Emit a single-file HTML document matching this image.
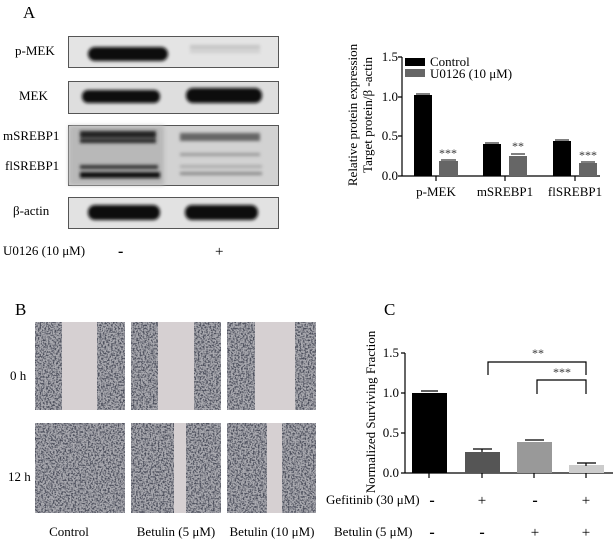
<!DOCTYPE html>
<html><head><meta charset="utf-8"><style>
html,body{margin:0;padding:0;background:#fff;}
svg{display:block;font-family:"Liberation Serif",serif;}
</style></head><body>
<svg width="613" height="542" viewBox="0 0 613 542" xmlns="http://www.w3.org/2000/svg">
<defs>
<filter id="blur1"><feGaussianBlur stdDeviation="2"/></filter>
<filter id="blur2"><feGaussianBlur stdDeviation="1.5"/></filter>
<filter id="cells" x="0" y="0" width="100%" height="100%" color-interpolation-filters="sRGB">
<feTurbulence type="fractalNoise" baseFrequency="0.6" numOctaves="2" seed="3" result="n"/>
<feColorMatrix in="n" type="matrix" values="0 0 0 0 0.3  0 0 0 0 0.31  0 0 0 0 0.36  4 0 0 0 -1.7" result="m"/>
<feComposite in="m" in2="SourceGraphic" operator="in"/>
</filter>
</defs>

<!-- Panel A -->
<text x="23" y="18" font-size="17">A</text>
<g font-size="13">
<text x="15" y="55">p-MEK</text>
<text x="19" y="100">MEK</text>
<text x="3" y="140">mSREBP1</text>
<text x="5" y="170">flSREBP1</text>
<text x="13" y="215">β-actin</text>
<text x="3" y="255">U0126  (10 μM)</text>
<text x="118" y="256" font-size="16" font-weight="bold">-</text>
<text x="215" y="256" font-size="15">+</text>
</g>
<g stroke="#555" stroke-width="1">
<rect x="68.5" y="36.5" width="210" height="31" fill="#e4e4e4"/>
<rect x="68.5" y="81.5" width="210" height="32" fill="#dedede"/>
<rect x="68.5" y="125.5" width="210" height="60" fill="#d2d2d2"/>
<rect x="68.5" y="197.5" width="210" height="31" fill="#e2e2e2"/>
</g>
<rect x="69" y="126" width="95" height="59" fill="#b8b8b8" filter="url(#blur1)"/>
<g filter="url(#blur2)" fill="#0a0a0a">
<rect x="88" y="47" width="80" height="14" rx="7"/>
<rect x="82" y="90" width="78" height="13" rx="6"/>
<rect x="186" y="88" width="76" height="15" rx="7"/>
<rect x="88" y="205" width="72" height="15" rx="7"/>
<rect x="185" y="205" width="73" height="15" rx="7"/>
<rect x="80" y="131" width="76" height="7" fill="#222"/>
<rect x="80" y="139" width="76" height="4" fill="#222"/>
<rect x="80" y="165" width="78" height="4" fill="#333"/>
<rect x="80" y="172" width="80" height="6"/>
<rect x="180" y="133" width="80" height="8" fill="#666"/>
<rect x="180" y="153" width="80" height="3" fill="#999"/>
<rect x="180" y="165" width="82" height="3" fill="#aaa"/>
<rect x="180" y="172" width="82" height="3" fill="#888"/>
<rect x="190" y="45" width="70" height="4" fill="#c4c4c4"/>
<rect x="190" y="50" width="70" height="3" fill="#cecece"/>
</g>

<!-- Top bar chart -->
<g font-size="13">
<text transform="translate(357,115) rotate(-90)" text-anchor="middle">Relative protein expression</text>
<text transform="translate(372,115) rotate(-90)" text-anchor="middle">Target protein/β -actin</text>
<g text-anchor="end">
<text x="398" y="61">1.5</text><text x="398" y="101">1.0</text>
<text x="398" y="140">0.5</text><text x="398" y="180">0.0</text>
</g>
<g text-anchor="middle">
<text x="436" y="196">p-MEK</text><text x="505" y="196">mSREBP1</text><text x="575" y="196">flSREBP1</text>
</g>
<text x="430" y="66">Control</text>
<text x="430" y="78">U0126 (10 μM)</text>
</g>
<rect x="405" y="58" width="20" height="8" fill="#000"/>
<rect x="405" y="69" width="20" height="8" fill="#666"/>
<g stroke="#000" stroke-width="1.2" fill="none">
<path d="M402,57V176H600M398,57H402M398,97H402M398,136H402M398,176H402"/>
<path d="M436,176V181M505,176V181M575,176V181"/>
</g>
<rect x="414" y="95" width="18" height="81" fill="#000"/>
<rect x="439" y="161" width="19" height="15" fill="#666"/>
<rect x="483" y="144" width="18" height="32" fill="#000"/>
<rect x="509" y="156" width="18" height="20" fill="#666"/>
<rect x="553" y="141" width="18" height="35" fill="#000"/>
<rect x="579" y="163" width="18" height="13" fill="#666"/>
<g stroke="#000" stroke-width="1"><path d="M416,94H430M441,160H456M485,143H499M511,154H525M555,140H569M581,162H595"/></g>
<g font-size="12" fill="#333" text-anchor="middle">
<text x="448" y="157">***</text><text x="518" y="150">**</text><text x="588" y="159">***</text>
</g>

<!-- Panel B -->
<text x="15" y="315" font-size="17">B</text>
<g font-size="13">
<text x="10" y="380">0 h</text><text x="8" y="481">12 h</text>
<g text-anchor="middle"><text x="69" y="536">Control</text><text x="176" y="536">Betulin (5 μM)</text><text x="272" y="536">Betulin (10 μM)</text></g>
</g>
<g>
<rect x="35" y="322" width="90" height="88" fill="#d6d0d2"/>
<rect x="131" y="322" width="90" height="88" fill="#d6d0d2"/>
<rect x="227" y="322" width="89" height="88" fill="#d6d0d2"/>
<rect x="35" y="423" width="90" height="90" fill="#d6d0d2"/>
<rect x="131" y="423" width="90" height="90" fill="#d6d0d2"/>
<rect x="227" y="423" width="89" height="90" fill="#d6d0d2"/>
<g fill="#aaaab0">
<rect x="35" y="322" width="27" height="88"/><rect x="97" y="322" width="28" height="88"/>
<rect x="131" y="322" width="27" height="88"/><rect x="194" y="322" width="27" height="88"/>
<rect x="227" y="322" width="28" height="88"/><rect x="295" y="322" width="21" height="88"/>
<rect x="35" y="423" width="90" height="90"/>
<rect x="131" y="423" width="43" height="90"/><rect x="186" y="423" width="35" height="90"/>
<rect x="227" y="423" width="40" height="90"/><rect x="282" y="423" width="34" height="90"/>
</g>
<g filter="url(#cells)">
<rect x="35" y="322" width="27" height="88" fill="#000"/><rect x="97" y="322" width="28" height="88" fill="#000"/>
<rect x="131" y="322" width="27" height="88" fill="#000"/><rect x="194" y="322" width="27" height="88" fill="#000"/>
<rect x="227" y="322" width="28" height="88" fill="#000"/><rect x="295" y="322" width="21" height="88" fill="#000"/>
<rect x="35" y="423" width="90" height="90" fill="#000"/>
<rect x="131" y="423" width="43" height="90" fill="#000"/><rect x="186" y="423" width="35" height="90" fill="#000"/>
<rect x="227" y="423" width="40" height="90" fill="#000"/><rect x="282" y="423" width="34" height="90" fill="#000"/>
</g>
</g>

<!-- Panel C -->
<text x="384" y="315" font-size="17">C</text>
<g font-size="13">
<text transform="translate(375,412) rotate(-90)" text-anchor="middle">Normalized Surviving Fraction</text>
<g text-anchor="end">
<text x="399" y="357">1.5</text><text x="399" y="397">1.0</text>
<text x="399" y="437">0.5</text><text x="399" y="477">0.0</text>
</g>
<text x="326" y="504">Gefitinib (30 μM)</text>
<text x="334" y="536">Betulin (5 μM)</text>
<g text-anchor="middle" font-size="15">
<text x="432" y="505" font-weight="bold" font-size="16">-</text><text x="482" y="505">+</text><text x="535" y="505" font-weight="bold" font-size="16">-</text><text x="586" y="505">+</text>
<text x="432" y="537" font-weight="bold" font-size="16">-</text><text x="482" y="537" font-weight="bold" font-size="16">-</text><text x="535" y="537">+</text><text x="586" y="537">+</text>
</g>
</g>
<g stroke="#000" stroke-width="1.2" fill="none">
<path d="M405,353V473H613M401,353H405M401,393H405M401,433H405M401,473H405"/>
<path d="M429,473V478M482,473V478M534,473V478M586,473V478"/>
<path d="M488,375V362H586V375M537,394V380H586V394"/>
</g>
<rect x="412" y="393" width="35" height="80" fill="#000"/>
<rect x="465" y="452" width="35" height="21" fill="#555"/>
<rect x="517" y="442" width="35" height="31" fill="#999"/>
<rect x="569" y="465" width="35" height="8" fill="#ccc"/>
<g stroke="#000" stroke-width="1.2"><path d="M421,391H438M473,449H492M525,440H544M577,463H596M482,449V452M586,463V466"/></g>
<g font-size="12" fill="#333" text-anchor="middle"><text x="538" y="357">**</text><text x="562" y="376">***</text></g>
</svg>
</body></html>
